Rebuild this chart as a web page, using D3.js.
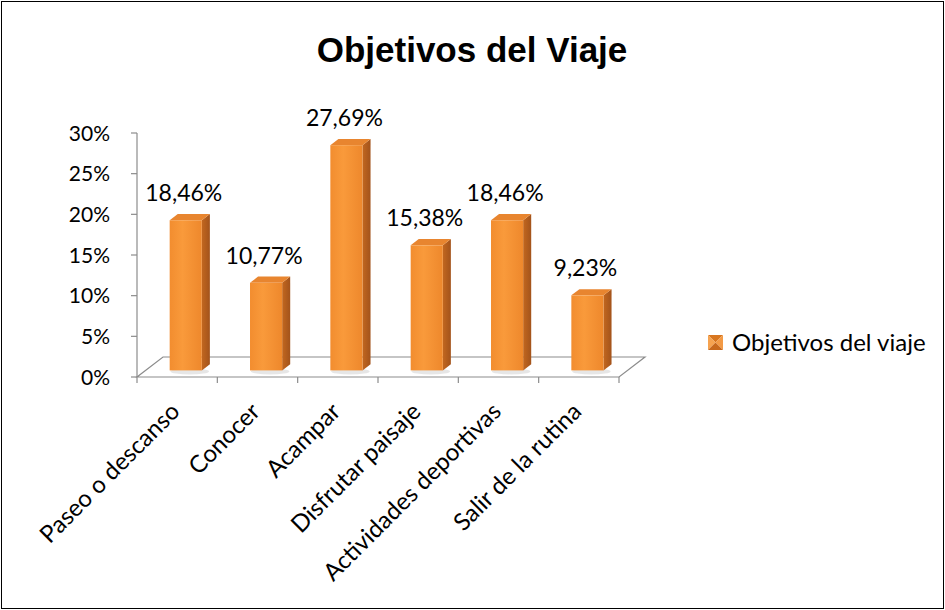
<!DOCTYPE html>
<html>
<head>
<meta charset="utf-8">
<script src="https://cdn.jsdelivr.net/npm/d3@7"></script>
<style>
  body { margin: 0; background: #fff; }
  svg text { font-family: Lato, "Open Sans", sans-serif; fill: #000; }
</style>
</head>
<body>
<svg id="chart" width="945" height="610"></svg>
<script>
// data
var categories = ["Paseo o descanso", "Conocer", "Acampar", "Disfrutar paisaje", "Actividades deportivas", "Salir de la rutina"];
var values = [0.1846, 0.1077, 0.2769, 0.1538, 0.1846, 0.0923];
var valueLabels = ["18,46%", "10,77%", "27,69%", "15,38%", "18,46%", "9,23%"];
var yTicks = [0, 0.05, 0.10, 0.15, 0.20, 0.25, 0.30];
var seriesName = "Objetivos del viaje";

var svg = d3.select("#chart"),
    width = +svg.attr("width"),
    height = +svg.attr("height");

var x = d3.scaleBand().domain(categories).range([137, 619]);
var y = d3.scaleLinear().domain([0, 0.30]).range([377, 133]);

// floor depth
var depthX = 26, depthY = -20;
var frontF = 0.33, backF = 0.64;

var defs = svg.append("defs");
var gFront = defs.append("linearGradient").attr("id", "front").attr("x1", 0).attr("x2", 1).attr("y1", 0).attr("y2", 0);
gFront.append("stop").attr("offset", "0%").attr("stop-color", "#f28d2f");
gFront.append("stop").attr("offset", "40%").attr("stop-color", "#f99a3b");
gFront.append("stop").attr("offset", "100%").attr("stop-color", "#ee882c");
var gSide = defs.append("linearGradient").attr("id", "side").attr("x1", 0).attr("x2", 1);
gSide.append("stop").attr("offset", "0%").attr("stop-color", "#c2671f");
gSide.append("stop").attr("offset", "100%").attr("stop-color", "#a3531b");

// outer border
svg.append("rect")
    .attr("x", 1.5).attr("y", 1.5)
    .attr("width", width - 3).attr("height", height - 3)
    .attr("fill", "none").attr("stroke", "#000").attr("stroke-width", 1);

// title
svg.append("text")
    .attr("x", 472).attr("y", 62)
    .attr("text-anchor", "middle")
    .style("font-family", "'Liberation Sans', Arial, sans-serif")
    .style("font-weight", "bold")
    .style("font-size", "35px")
    .text("Objetivos del Viaje");

// floor
var x0 = x.range()[0], x1 = x.range()[1], y0 = y(0);
svg.append("path")
    .attr("d", "M" + x0 + "," + y0 + "L" + x1 + "," + y0 +
        "L" + (x1 + depthX) + "," + (y0 + depthY) +
        "L" + (x0 + depthX) + "," + (y0 + depthY) + "Z")
    .attr("fill", "#fff").attr("stroke", "#8c8c8c").attr("stroke-width", 1.2);

// y axis
svg.append("line")
    .attr("x1", x0).attr("x2", x0)
    .attr("y1", y(0.30)).attr("y2", y0)
    .attr("stroke", "#8c8c8c").attr("stroke-width", 1.2);

var yAxis = svg.append("g").attr("class", "y-axis");
yAxis.selectAll("line")
    .data(yTicks)
    .enter().append("line")
      .attr("x1", x0 - 6).attr("x2", x0)
      .attr("y1", function(d) { return y(d); })
      .attr("y2", function(d) { return y(d); })
      .attr("stroke", "#8c8c8c").attr("stroke-width", 1.2);
yAxis.selectAll("text")
    .data(yTicks)
    .enter().append("text")
      .attr("x", 110)
      .attr("y", function(d) { return y(d); })
      .attr("dy", "0.36em")
      .attr("text-anchor", "end")
      .style("font-size", "21px")
      .text(function(d) { return Math.round(d * 100) + "%"; });

// x ticks
var xTickPos = categories.map(function(c) { return x(c); }).concat([x1]);
svg.append("g").selectAll("line")
    .data(xTickPos)
    .enter().append("line")
      .attr("x1", function(d) { return d; }).attr("x2", function(d) { return d; })
      .attr("y1", y0).attr("y2", y0 + 6)
      .attr("stroke", "#8c8c8c").attr("stroke-width", 1.2);

// category labels
svg.append("g").selectAll("text")
    .data(categories)
    .enter().append("text")
      .attr("transform", function(d) {
        return "translate(" + (x(d) + x.bandwidth() / 2 + 4) + "," + (y0 + 36) + ") rotate(-45)";
      })
      .attr("text-anchor", "end")
      .style("font-size", "24px")
      .text(function(d) { return d; });

// bars
var barW = x.bandwidth() * 0.4;
var fdx = depthX * frontF, fdy = depthY * frontF;
var bdx = depthX * (backF - frontF), bdy = depthY * (backF - frontF);

var bars = svg.append("g").attr("class", "bars")
  .selectAll("g")
  .data(categories)
  .enter().append("g");

// soft shadow
bars.append("ellipse")
    .attr("cx", function(d) { return x(d) + x.bandwidth() / 2 + fdx + 4; })
    .attr("cy", y0 + fdy + 1)
    .attr("rx", barW * 0.6).attr("ry", 3)
    .attr("fill", "#d6d6d6").attr("opacity", 0.6);

bars.each(function(d, i) {
  var g = d3.select(this);
  var left = x(d) + (x.bandwidth() - barW) / 2 + fdx;
  var right = left + barW;
  var base = y0 + fdy;
  var top = base - (y0 - y(values[i]));
  // side face
  g.append("path")
      .attr("d", "M" + right + "," + base + "L" + right + "," + top +
          "L" + (right + bdx) + "," + (top + bdy) +
          "L" + (right + bdx) + "," + (base + bdy) + "Z")
      .attr("fill", "url(#side)");
  // top face
  g.append("path")
      .attr("d", "M" + left + "," + top + "L" + right + "," + top +
          "L" + (right + bdx) + "," + (top + bdy) +
          "L" + (left + bdx) + "," + (top + bdy) + "Z")
      .attr("fill", "#e8852f");
  // front face
  g.append("rect")
      .attr("x", left).attr("y", top)
      .attr("width", barW).attr("height", base - top)
      .attr("fill", "url(#front)");
  // value label
  g.append("text")
      .attr("x", left + barW / 2 - 2)
      .attr("y", top + bdy - 13)
      .attr("text-anchor", "middle")
      .style("font-size", "23px")
      .text(valueLabels[i]);
});

// legend
var ls = 15;
var legend = svg.append("g").attr("transform", "translate(708,335)");
var tris = [
  { p: [[0, 0], [ls, 0], [ls / 2, ls / 2]], c: "#d8761f" },
  { p: [[0, 0], [0, ls], [ls / 2, ls / 2]], c: "#f6a350" },
  { p: [[ls, 0], [ls, ls], [ls / 2, ls / 2]], c: "#f39a45" },
  { p: [[0, ls], [ls, ls], [ls / 2, ls / 2]], c: "#c8691d" }
];
legend.selectAll("path")
    .data(tris)
    .enter().append("path")
      .attr("d", function(t) { return "M" + t.p.join("L") + "Z"; })
      .attr("fill", function(t) { return t.c; });
legend.append("text")
    .attr("x", 24).attr("y", ls / 2)
    .attr("dy", "0.36em")
    .style("font-size", "24px")
    .text(seriesName);
</script>
</body>
</html>
